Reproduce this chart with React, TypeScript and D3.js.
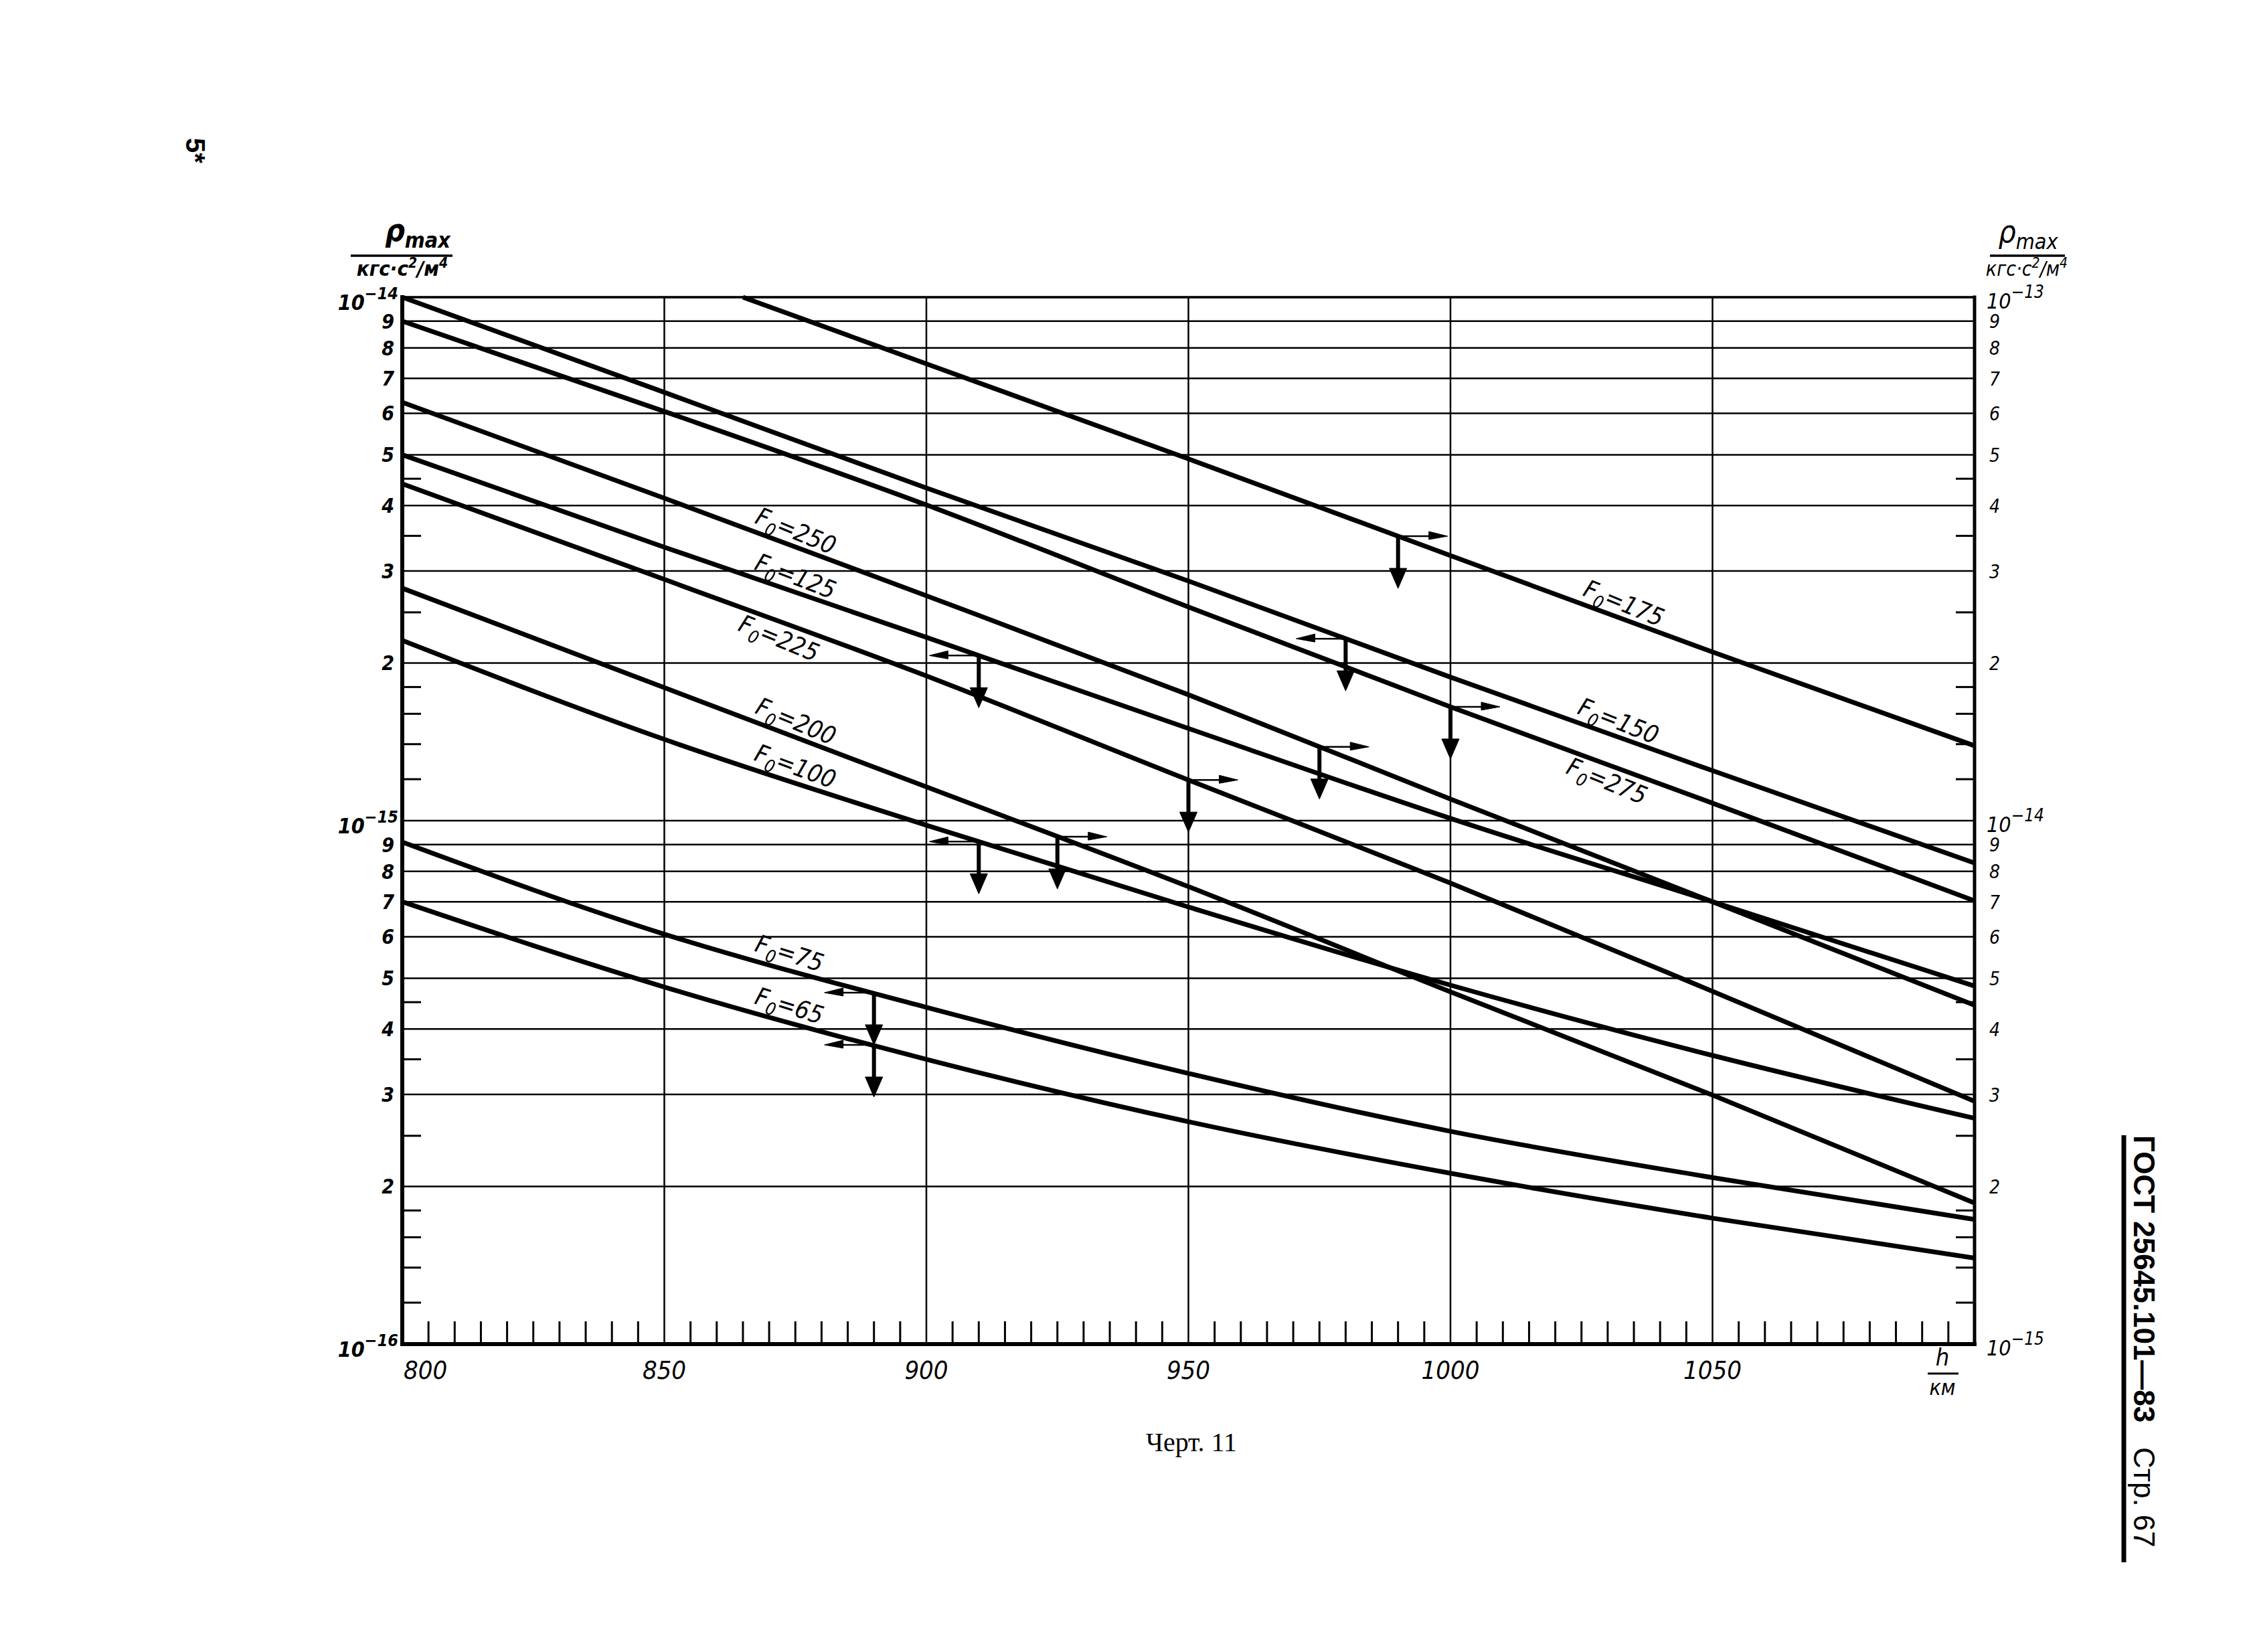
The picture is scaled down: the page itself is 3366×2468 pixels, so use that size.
import React from "react";
import * as d3 from "d3";

const PAGE_W = 3366;
const PAGE_H = 2468;

// altitude nodes, km
const heights = [800, 850, 900, 950, 1000, 1050, 1100];
const heightsF175 = [865, 900, 950, 1000, 1050, 1100];

// ρmax, кгс·с²/м⁴ — curves read on the left axis (arrow ←)
const rhoF150 = [1.0e-14, 6.58e-15, 4.32e-15, 2.87e-15, 1.88e-15, 1.246e-15, 8.3e-16];
const rhoF125 = [5.0e-15, 3.33e-15, 2.24e-15, 1.5e-15, 1.01e-15, 7.0e-16, 4.83e-16];
const rhoF100 = [2.21e-15, 1.43e-15, 9.8e-16, 6.84e-16, 4.85e-16, 3.56e-16, 2.7e-16];
const rhoF75 = [9.1e-16, 6.07e-16, 4.4e-16, 3.29e-16, 2.55e-16, 2.08e-16, 1.73e-16];
const rhoF65 = [7.0e-16, 4.81e-16, 3.5e-16, 2.66e-16, 2.12e-16, 1.74e-16, 1.46e-16];

// ρmax — curves read on the right axis (arrow →)
const rhoF175 = [1.0e-13, 7.46e-14, 4.91e-14, 3.21e-14, 2.1e-14, 1.39e-14];
const rhoF275 = [9.0e-14, 6.05e-14, 4.01e-14, 2.56e-14, 1.65e-14, 1.08e-14, 7.03e-15];
const rhoF250 = [6.3e-14, 4.13e-14, 2.69e-14, 1.74e-14, 1.1e-14, 7.0e-15, 4.44e-15];
const rhoF225 = [4.4e-14, 2.89e-14, 1.89e-14, 1.196e-14, 7.6e-15, 4.72e-15, 2.91e-15];
const rhoF200 = [2.78e-14, 1.795e-14, 1.16e-14, 7.48e-15, 4.71e-15, 2.99e-15, 1.86e-15];

// where the F0 captions sit along the curves (km), above or below the line
const labelAt = [
  { f0: 250, h: 874, side: "above" },
  { f0: 125, h: 874, side: "above" },
  { f0: 225, h: 873, side: "below" },
  { f0: 200, h: 874, side: "above" },
  { f0: 100, h: 874, side: "above" },
  { f0: 75, h: 873, side: "above" },
  { f0: 65, h: 873, side: "above" },
  { f0: 175, h: 1032, side: "above" },
  { f0: 150, h: 1031, side: "above" },
  { f0: 275, h: 1031, side: "below" },
];

// axis pointers: altitude on the curve and direction of the horizontal arrow
const arrowAt = [
  { f0: 175, h: 990, dir: 1 },
  { f0: 150, h: 980, dir: -1 },
  { f0: 275, h: 1000, dir: 1 },
  { f0: 250, h: 975, dir: 1 },
  { f0: 125, h: 910, dir: -1 },
  { f0: 225, h: 950, dir: 1 },
  { f0: 200, h: 925, dir: 1 },
  { f0: 100, h: 910, dir: -1 },
  { f0: 75, h: 890, dir: -1 },
  { f0: 65, h: 890, dir: -1 },
];

// ticks
const xTicks = [800, 850, 900, 950, 1000, 1050];
const xGrid = [850, 900, 950, 1000, 1050];
const gridMantissas = [2, 3, 4, 5, 6, 7, 8, 9];
const minorMantissas = [1.2, 1.4, 1.6, 1.8, 2.5, 3.5, 4.5];
const leftDecades = [-16, -15, -14];
const rightDecades = [-15, -14, -13];

const NARROW = "'Liberation Sans Narrow', 'DejaVu Sans Condensed', 'Liberation Sans', sans-serif";
const INK = "#000";

type Curve = { f0: number; axis: "left" | "right"; h: number[]; rho: number[] };

const curves: Curve[] = [
  { f0: 175, axis: "right", h: heightsF175, rho: rhoF175 },
  { f0: 150, axis: "left", h: heights, rho: rhoF150 },
  { f0: 275, axis: "right", h: heights, rho: rhoF275 },
  { f0: 250, axis: "right", h: heights, rho: rhoF250 },
  { f0: 125, axis: "left", h: heights, rho: rhoF125 },
  { f0: 225, axis: "right", h: heights, rho: rhoF225 },
  { f0: 200, axis: "right", h: heights, rho: rhoF200 },
  { f0: 100, axis: "left", h: heights, rho: rhoF100 },
  { f0: 75, axis: "left", h: heights, rho: rhoF75 },
  { f0: 65, axis: "left", h: heights, rho: rhoF65 },
];

export default function App() {
  const box = { left: 601, right: 2950, top: 444, bottom: 2008 };

  const x = d3.scaleLinear().domain([800, 1100]).range([box.left, box.right]);
  const yL = d3.scaleLog().domain([1e-16, 1e-14]).range([box.bottom, box.top]);
  const yR = d3.scaleLog().domain([1e-15, 1e-13]).range([box.bottom, box.top]);
  const yOf = (c: Curve) => (c.axis === "left" ? yL : yR);

  const byF0 = (f0: number) => curves.find((c) => c.f0 === f0) as Curve;

  // log-linear reading along a curve, used to pin captions and arrows
  const pointOn = (c: Curve, h: number) => {
    const s = d3.scaleLinear().domain(c.h).range(c.rho.map(Math.log10));
    return [x(h), yOf(c)(Math.pow(10, s(h)))];
  };

  const lineFor = (c: Curve) =>
    d3
      .line<number>()
      .x((_, i) => x(c.h[i]))
      .y((v) => yOf(c)(v))
      .curve(d3.curveMonotoneX)(c.rho) as string;

  const xMinor = d3.range(805, 1100, 5).filter((h) => h % 50 !== 0);

  const gridValues: number[] = [];
  const minorValues: number[] = [];
  leftDecades.forEach((e) => {
    if (e < -14) {
      gridMantissas.forEach((m) => gridValues.push(m * Math.pow(10, e)));
      minorMantissas.forEach((m) => minorValues.push(m * Math.pow(10, e)));
    }
    gridValues.push(Math.pow(10, e));
  });

  const mantissa = (v: number) => Math.round(v / Math.pow(10, Math.floor(Math.log10(v) + 1e-9)));
  const tickLen = 28;

  return (
    <svg
      width={PAGE_W}
      height={PAGE_H}
      viewBox={`0 0 ${PAGE_W} ${PAGE_H}`}
      style={{ position: "absolute", left: 0, top: 0, background: "#fff" }}
    >
      <rect x={0} y={0} width={PAGE_W} height={PAGE_H} fill="#fff" />

      {/* page number mark */}
      <text
        transform="translate(278,206) rotate(90)"
        fontFamily="'Liberation Sans', sans-serif"
        fontWeight="bold"
        fontSize={40}
        fill={INK}
      >
        5*
      </text>

      {/* horizontal grid */}
      <g stroke={INK} strokeWidth={2.5}>
        {gridValues.map((v) => (
          <line key={v} x1={box.left} x2={box.right} y1={yL(v)} y2={yL(v)} />
        ))}
      </g>
      <line x1={box.left} x2={box.right} y1={box.top} y2={box.top} stroke={INK} strokeWidth={3.5} />

      {/* minor value ticks on both vertical axes */}
      <g stroke={INK} strokeWidth={3}>
        {minorValues.map((v) => (
          <g key={v}>
            <line x1={box.left} x2={box.left + tickLen} y1={yL(v)} y2={yL(v)} />
            <line x1={box.right - tickLen} x2={box.right} y1={yL(v)} y2={yL(v)} />
          </g>
        ))}
      </g>

      {/* vertical grid */}
      <g stroke={INK} strokeWidth={2.5}>
        {xGrid.map((h) => (
          <line key={h} x1={x(h)} x2={x(h)} y1={box.top} y2={box.bottom} />
        ))}
      </g>

      {/* altitude minor ticks */}
      <g stroke={INK} strokeWidth={3}>
        {xMinor.map((h) => (
          <line key={h} x1={x(h)} x2={x(h)} y1={box.bottom} y2={box.bottom - 34} />
        ))}
      </g>

      {/* frame */}
      <g stroke={INK} strokeLinecap="square">
        <line x1={box.left} x2={box.left} y1={box.top} y2={box.bottom} strokeWidth={6} />
        <line x1={box.right} x2={box.right} y1={box.top} y2={box.bottom} strokeWidth={5} />
        <line x1={box.left} x2={box.right} y1={box.bottom} y2={box.bottom} strokeWidth={6} />
      </g>

      {/* curves */}
      <g fill="none" stroke={INK} strokeWidth={7} strokeLinejoin="round">
        {curves.map((c) => (
          <path key={c.f0} d={lineFor(c)} />
        ))}
      </g>

      {/* axis pointers */}
      <g fill={INK} stroke={INK}>
        {arrowAt.map((a) => {
          const [px, py] = pointOn(byF0(a.f0), a.h);
          const v = 78;
          const hl = 74;
          return (
            <g key={a.f0}>
              <line x1={px} x2={px} y1={py} y2={py + v - 22} strokeWidth={6} />
              <path
                d={`M${px - 13},${py + v - 30} L${px + 13},${py + v - 30} L${px},${py + v} Z`}
                strokeWidth={1}
              />
              <line x1={px} x2={px + a.dir * (hl - 18)} y1={py} y2={py} strokeWidth={2.5} />
              <path
                d={`M${px + a.dir * (hl - 28)},${py - 7} L${px + a.dir * hl},${py} L${px + a.dir * (hl - 28)},${py + 5} Z`}
                strokeWidth={1}
              />
            </g>
          );
        })}
      </g>

      {/* F0 captions */}
      <g fontFamily={NARROW} fontStyle="italic" fill={INK}>
        {labelAt.map((l) => {
          const c = byF0(l.f0);
          const [px, py] = pointOn(c, l.h);
          const [ax, ay] = pointOn(c, l.h - 10);
          const [bx, by] = pointOn(c, l.h + 10);
          const ang = (Math.atan2(by - ay, bx - ax) * 180) / Math.PI + 2;
          return (
            <text
              key={l.f0}
              transform={`translate(${px},${py}) rotate(${ang})`}
              y={l.side === "above" ? -10 : 36}
              textAnchor="middle"
              fontSize={37}
            >
              F<tspan fontSize={26} dy={9}>0</tspan>
              <tspan dy={-9}>{`=${l.f0}`}</tspan>
            </text>
          );
        })}
      </g>

      {/* left value labels */}
      <g fontFamily={NARROW} fontStyle="italic" fontWeight="bold" fill={INK}>
        {leftDecades
          .filter((e) => e < -14)
          .flatMap((e) => gridMantissas.map((m) => m * Math.pow(10, e)))
          .map((v) => (
            <text key={v} x={box.left - 12} y={yL(v)} dy="0.36em" textAnchor="end" fontSize={30}>
              {mantissa(v)}
            </text>
          ))}
        {leftDecades.map((e) => (
          <text key={e} x={box.left - 6} y={yL(Math.pow(10, e)) + 19} textAnchor="end" fontSize={32}>
            10
            <tspan fontSize={25} dy={-16}>{`\u2212${-e}`}</tspan>
          </text>
        ))}
      </g>

      {/* right value labels */}
      <g fontFamily={NARROW} fontStyle="italic" fill={INK}>
        {rightDecades
          .filter((e) => e < -13)
          .flatMap((e) => gridMantissas.map((m) => m * Math.pow(10, e)))
          .map((v) => (
            <text key={v} x={box.right + 22} y={yR(v)} dy="0.38em" fontSize={28}>
              {mantissa(v)}
            </text>
          ))}
        {rightDecades.map((e) => (
          <text key={e} x={box.right + 18} y={yR(Math.pow(10, e)) + 17} fontSize={32}>
            10
            <tspan fontSize={26} dy={-16}>{`\u2212${-e}`}</tspan>
          </text>
        ))}
      </g>

      {/* altitude labels */}
      <g fontFamily={NARROW} fontStyle="italic" fill={INK} fontSize={38}>
        {xTicks.map((h, i) => (
          <text key={h} x={i === 0 ? x(h) + 2 : x(h)} y={box.bottom + 52} textAnchor={i === 0 ? "start" : "middle"}>
            {h}
          </text>
        ))}
        <text x={2902} y={box.bottom + 32} textAnchor="middle" fontSize={36}>
          h
        </text>
        <line x1={2880} x2={2926} y1={box.bottom + 44} y2={box.bottom + 44} stroke={INK} strokeWidth={3} />
        <text x={2902} y={box.bottom + 76} textAnchor="middle" fontSize={32}>
          км
        </text>
      </g>

      {/* axis titles */}
      <g fontFamily={NARROW} fontStyle="italic" fontWeight="bold" fill={INK}>
        <text x={624} y={360} textAnchor="middle" fontSize={46}>
          ρ<tspan fontSize={32} dy={10}>max</tspan>
        </text>
        <line x1={524} x2={676} y1={382} y2={382} stroke={INK} strokeWidth={3.5} />
        <text x={601} y={412} textAnchor="middle" fontSize={31}>
          кгс·с<tspan fontSize={21} dy={-12}>2</tspan>
          <tspan dy={12}>/м</tspan>
          <tspan fontSize={21} dy={-12}>4</tspan>
        </text>

        <text x={3030} y={362} textAnchor="middle" fontSize={46} fontWeight="normal">
          ρ<tspan fontSize={32} dy={10}>max</tspan>
        </text>
        <line x1={2973} x2={3085} y1={382} y2={382} stroke={INK} strokeWidth={3.5} />
        <text x={3028} y={412} textAnchor="middle" fontSize={30} fontWeight="normal">
          кгс·с<tspan fontSize={21} dy={-12}>2</tspan>
          <tspan dy={12}>/м</tspan>
          <tspan fontSize={21} dy={-12}>4</tspan>
        </text>
      </g>

      {/* figure caption */}
      <text
        x={1780}
        y={2168}
        textAnchor="middle"
        fontFamily="'Liberation Serif', 'DejaVu Serif', serif"
        fontSize={40}
        fill={INK}
      >
        Черт. 11
      </text>

      {/* page margin heading */}
      <line x1={3173} x2={3173} y1={1696} y2={2334} stroke={INK} strokeWidth={7} />
      <g transform="translate(3188,1696) rotate(90)" fontFamily="'Liberation Sans', sans-serif" fill={INK} fontSize={44}>
        <text x={0} y={0} fontWeight="bold">
          ГОСТ 25645.101—83
        </text>
        <text x={466} y={0}>
          Стр. 67
        </text>
      </g>
    </svg>
  );
}
